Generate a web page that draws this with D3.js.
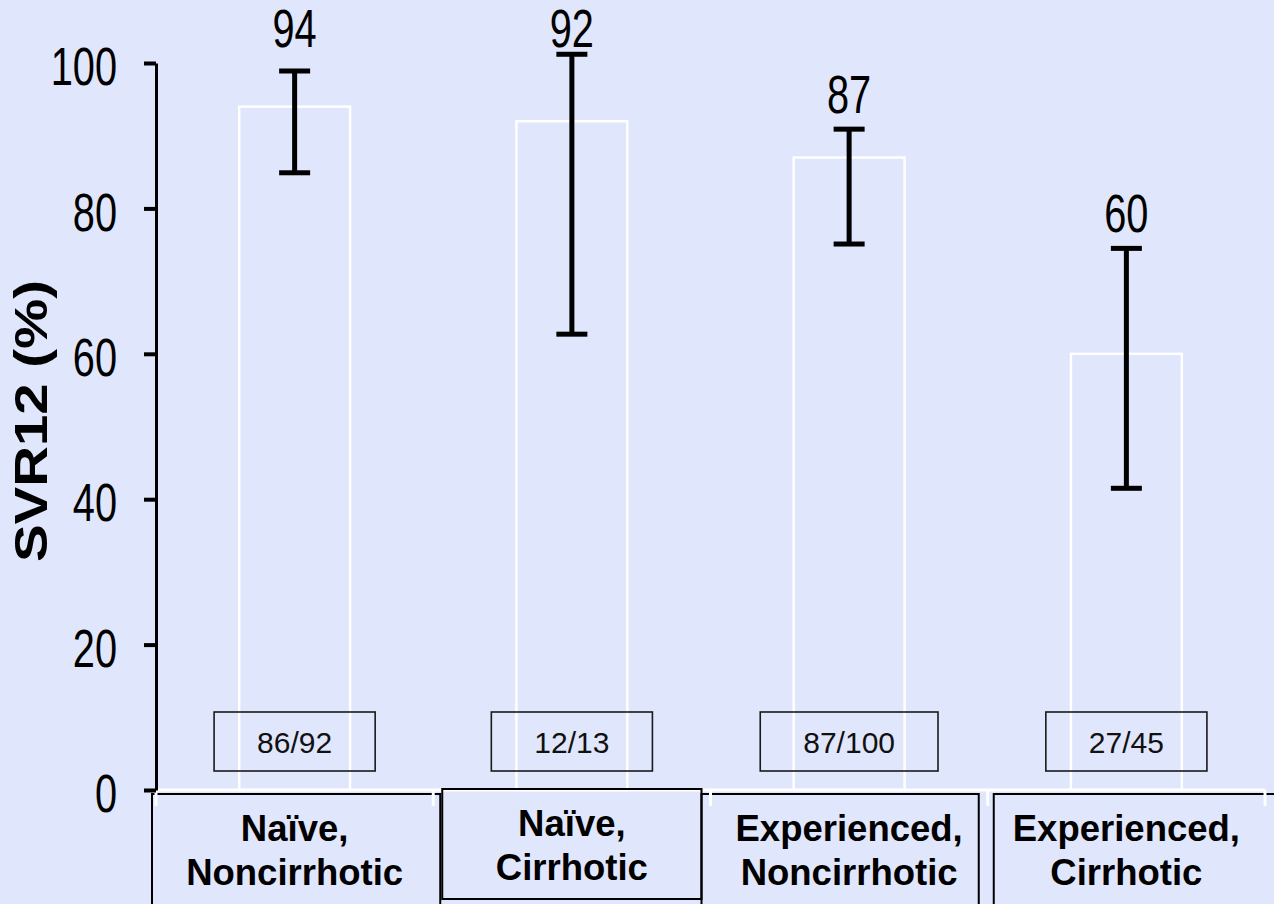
<!DOCTYPE html>
<html>
<head>
<meta charset="utf-8">
<script src="https://cdn.jsdelivr.net/npm/d3@7"></script>
<style>
  html, body { margin: 0; padding: 0; background: #e0e6fb; }
  svg { display: block; }
  text { font-family: Arial, "Liberation Sans", sans-serif; }
</style>
</head>
<body>
<svg id="chart" width="1274" height="904"></svg>
<script>
// SVR12 by treatment history and cirrhosis status
const categories = [
  ["Naïve,", "Noncirrhotic"],
  ["Naïve,", "Cirrhotic"],
  ["Experienced,", "Noncirrhotic"],
  ["Experienced,", "Cirrhotic"]
];
const svr12 = [94, 92, 87, 60];          // % achieving SVR12
const ciLow = [84.9, 62.7, 75.1, 41.5];  // 95% CI lower bound
const ciHigh = [98.9, 101.2, 90.9, 74.5]; // 95% CI upper bound
const responders = ["86/92", "12/13", "87/100", "27/45"];
const yTicks = [0, 20, 40, 60, 80, 100];
const yTitle = "SVR12 (%)";

const W = 1274, H = 904;
const bg = "#e0e6fb";
const svg = d3.select("#chart");

svg.append("rect").attr("width", W).attr("height", H).attr("fill", bg);

const idx = categories.map((d, i) => i);
const x = d3.scaleBand().domain(idx).range([156, 1265]).paddingInner(0.6).paddingOuter(0.3);
const y = d3.scaleLinear().domain([0, 100]).range([790, 63]);
const step = x.step();
const edge = i => x.range()[0] + i * step;

// bars: white outline, background fill
svg.append("g").selectAll("rect").data(svr12).join("rect")
  .attr("x", (d, i) => x(i))
  .attr("y", d => y(d))
  .attr("width", x.bandwidth())
  .attr("height", d => y(0) - y(d))
  .attr("fill", "none")
  .attr("stroke", "#ffffff")
  .attr("stroke-width", 2.5);

// responder count boxes near the base of each bar
const countG = svg.append("g").selectAll("g").data(responders).join("g")
  .attr("transform", (d, i) => `translate(${x(i) + x.bandwidth() / 2},0)`);
countG.append("text")
  .attr("class", "count")
  .attr("text-anchor", "middle")
  .attr("y", 753)
  .attr("font-size", 30)
  .attr("fill", "#111")
  .text(d => d);
countG.each(function () {
  const g = d3.select(this);
  const w = g.select("text").node().getComputedTextLength() + 86;
  g.insert("rect", "text")
    .attr("x", -w / 2).attr("y", 712)
    .attr("width", w).attr("height", 59)
    .attr("fill", "none")
    .attr("stroke", "#1a1a1a")
    .attr("stroke-width", 1.6);
});

// x baseline (white)
svg.append("line")
  .attr("x1", x.range()[0]).attr("x2", x.range()[1])
  .attr("y1", y(0)).attr("y2", y(0))
  .attr("stroke", "#ffffff").attr("stroke-width", 3);

// category label boxes
const boxAdjust = [[-4, 7, 4], [9, -9, -1], [-9, -9, 4], [6, 25, 4]];
const catG = svg.append("g").selectAll("g").data(categories).join("g");
catG.append("rect")
  .attr("x", (d, i) => edge(i) + boxAdjust[i][0])
  .attr("y", (d, i) => y(0) + boxAdjust[i][2])
  .attr("width", (d, i) => step - boxAdjust[i][0] + boxAdjust[i][1])
  .attr("height", (d, i) => i === 1 ? 110 : 120)
  .attr("fill", "none")
  .attr("stroke", "#000")
  .attr("stroke-width", 2);
catG.each(function (d, i) {
  const g = d3.select(this);
  const top = y(0) + boxAdjust[i][2];
  const cx = x(i) + x.bandwidth() / 2;
  d.forEach((line, k) => {
    g.append("text")
      .attr("x", cx)
      .attr("y", top + 46.5 + k * 44)
      .attr("text-anchor", "middle")
      .attr("font-size", 36.5)
      .attr("font-weight", "bold")
      .attr("fill", "#000")
      .text(line);
  });
});

// white tick marks at band edges
svg.append("g").selectAll("line").data(d3.range(categories.length + 1)).join("line")
  .attr("x1", i => edge(i)).attr("x2", i => edge(i))
  .attr("y1", y(0)).attr("y2", y(0) + 16)
  .attr("stroke", "#ffffff").attr("stroke-width", 3);

// error bars
const eb = svg.append("g").attr("stroke", "#000").attr("stroke-width", 5);
idx.forEach(i => {
  const cx = x(i) + x.bandwidth() / 2;
  eb.append("line").attr("x1", cx).attr("x2", cx).attr("y1", y(ciLow[i])).attr("y2", y(ciHigh[i]));
  [ciLow[i], ciHigh[i]].forEach(v => {
    eb.append("line").attr("x1", cx - 15.5).attr("x2", cx + 15.5).attr("y1", y(v)).attr("y2", y(v));
  });
});

// value labels above whiskers; those reaching the top of the scale align on the top margin
svg.append("g").selectAll("text").data(svr12).join("text")
  .attr("transform", (d, i) => {
    const cx = x(i) + x.bandwidth() / 2;
    const base = ciHigh[i] >= 95 ? y(100) - 16 : y(ciHigh[i]) - 16;
    return `translate(${cx},${base}) scale(0.75,1)`;
  })
  .attr("text-anchor", "middle")
  .attr("font-size", 53)
  .attr("fill", "#000")
  .text(d => d);

// y axis
const yAxis = d3.axisLeft(y).tickValues(yTicks).tickSize(12).tickSizeOuter(0).tickPadding(0);
const ax = svg.append("g").attr("transform", "translate(156,0)").call(yAxis);
ax.select(".domain").attr("stroke", "#000").attr("stroke-width", 3);
ax.selectAll(".tick line").attr("stroke", "#000").attr("stroke-width", 4);
ax.selectAll(".tick text")
  .attr("x", -52)
  .attr("dy", "0.41em")
  .attr("transform", "scale(0.75,1)")
  .attr("font-size", 53)
  .attr("font-family", "Arial, 'Liberation Sans', sans-serif")
  .attr("fill", "#000");

// y axis title
svg.append("text")
  .attr("transform", "translate(47,421) rotate(-90) scale(1.2,1)")
  .attr("text-anchor", "middle")
  .attr("font-size", 47)
  .attr("font-weight", "bold")
  .attr("fill", "#000")
  .text(yTitle);
</script>
</body>
</html>
